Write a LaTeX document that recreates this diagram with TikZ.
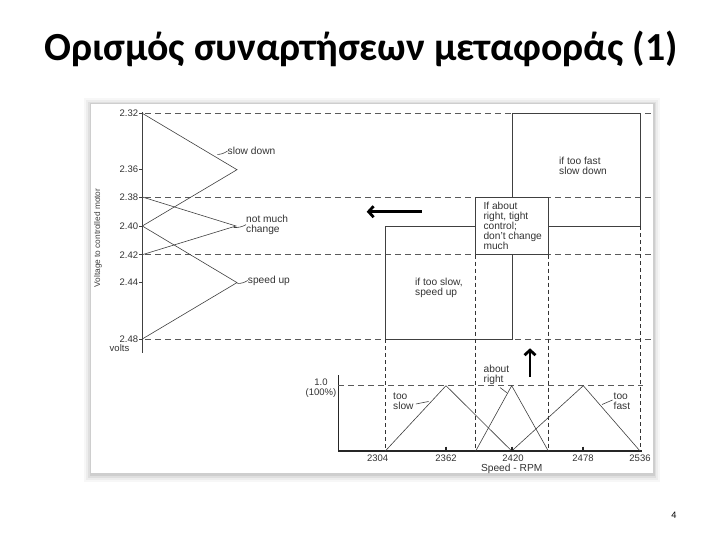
\documentclass[tikz,border=0pt]{standalone}
\usepackage{fontspec}
\setmainfont{Liberation Sans}
\newfontfamily\titlefont{Carlito}
\usetikzlibrary{arrows.meta, positioning}

\begin{document}
\begin{tikzpicture}[x=1pt, y=-1pt,
	curve/.style={line width=0.6pt, black!75},
	boxline/.style={line width=0.8pt, black!75},
	hguide/.style={line width=0.6pt, black!65, dash pattern=on 6pt off 4pt},
	vguide/.style={line width=0.6pt, black!80, dash pattern=on 4pt off 3pt},
	lbl/.style={font=\fontsize{9.5}{10}\selectfont, text=black!80, inner sep=0pt, align=left},
	word/.style={lbl, font=\fontsize{10.2}{10}\selectfont},
	fatarrow/.style={line width=2.8pt, black, -{Straight Barb[length=5pt, width=11pt]}},
	]
	\useasboundingbox (0,0) rectangle (720,540);
	
	% -------------------------------------------------------------------------
	% 1. Parameters (pixel positions)
	% -------------------------------------------------------------------------
	\def\Ax{142.3}   % voltage axis
	\def\Apex{237}   % apex of the voltage triangles
	\def\Bx{338.3}   % speed axis (vertical)
	\def\By{451}     % speed axis (horizontal)
	\def\Top{385.7}  % level 1.0
	
	% -------------------------------------------------------------------------
	% 2. Title, page number and the picture frame
	% -------------------------------------------------------------------------
	\node[font=\titlefont\bfseries\fontsize{39.8}{44}\selectfont, anchor=base] (title) at (361,61) {Ορισμός συναρτήσεων μεταφοράς (1)};
	\node[font=\titlefont\fontsize{10}{12}\selectfont] (pagenum) at (674,515) {4};
	
	\foreach \s/\op in {7/0.03, 5/0.04, 3/0.06, 1.5/0.08}
	\fill[black, opacity=\op] ({91-\s},{104-\s+1}) rectangle ({653+\s},{473+\s+1.5});
	\fill[white] (91,104) rectangle (653,473);
	
	% -------------------------------------------------------------------------
	% 3. Voltage axis with ticks
	% -------------------------------------------------------------------------
	\draw[curve] (\Ax,112) -- (\Ax,353);
	\foreach \v/\y [count=\i] in {2.32/113.3, 2.36/169.7, 2.38/197.0, 2.40/226.0, 2.42/254.7, 2.44/282.6, 2.48/339.0} {
		\draw[curve] (139.3,\y) -- (\Ax,\y);
		\node[lbl, anchor=east] (tick\i) at (138.3,\y) {\v};
	}
	\node[lbl] (volts) at (119.5,348.5) {volts};
	\node[rotate=90, font=\fontsize{8.3}{10}\selectfont, text=black!75, inner sep=0pt] (ylabel) at (98,238) {Voltage to controlled motor};
	
	% dashed levels 2.32, 2.38, 2.42, 2.48
	\foreach \y in {113.3, 197.0, 254.7, 339.0}
	\draw[hguide] (145,\y) -- (652,\y);
	
	% -------------------------------------------------------------------------
	% 4. Output triangles
	% -------------------------------------------------------------------------
	\draw[curve] (\Ax,113.3) -- (\Apex,169.7) -- (\Ax,226.0);
	\draw[curve] (\Ax,197.0) -- (236,226.0) -- (\Ax,254.7);
	\draw[curve] (\Ax,226.0) -- (\Apex,282.6) -- (\Ax,339.0);
	
	\node[word, anchor=west] (slowdown) at (227.5,151) {slow down};
	\node[word, anchor=west] (nochange) at (246,224.7) {not much\\change};
	\node[word, anchor=west] (speedup) at (247.7,280.5) {speed up};
	\draw[curve] (slowdown.west) to[bend left=15] (217.5,154.5);
	\draw[curve] (nochange.west) to[bend left=15] (233.5,227.5);
	\draw[curve] (speedup.west) to[bend left=15] (237.5,283.5);
	
	% -------------------------------------------------------------------------
	% 5. Rule boxes
	% -------------------------------------------------------------------------
	\draw[boxline] (512.3,197.0) -- (512.3,113.3) -- (640,113.3) -- (640,226.0) -- (548.3,226.0);
	\draw[boxline] (475.7,197.0) rectangle (548.3,254.7);
	\draw[boxline] (475.7,226.0) -- (385.3,226.0) -- (385.3,339.0) -- (512.3,339.0) -- (512.3,254.7);
	
	\node[word, anchor=west] (fasttxt) at (559,166) {if too fast\\slow down};
	\node[word, anchor=west] (righttxt) at (483.3,226) {If about\\right, tight\\control;\\don't change\\much};
	\node[word, anchor=west] (slowtxt) at (415,287.7) {if too slow,\\speed up};
	
	\coordinate (leftA) at (421.7,211.7);
	\coordinate (leftB) at (366.7,211.7);
	\draw[fatarrow] (leftA) -- (leftB);
	
	% vertical guides down to the speed axis
	\draw[vguide] (385.3,339.0) -- (385.3,\By);
	\draw[vguide] (475.7,254.7) -- (475.7,\By);
	\draw[vguide] (548.3,254.7) -- (548.3,\By);
	\draw[vguide] (640,226.0) -- (640,\By);
	
	% -------------------------------------------------------------------------
	% 6. Speed membership functions
	% -------------------------------------------------------------------------
	\draw[line width=1.2pt, black!85] (\Bx,375) -- (\Bx,\By) -- (641.7,\By);
	\draw[hguide] (\Bx,\Top) -- (643,\Top);
	\node[lbl, align=center] (fullval) at (321,388.3) {1.0\\(100\%)};
	
	\draw[curve] (385.3,\By) -- (446,\Top) -- (511.7,\By);
	\draw[curve] (475.7,\By) -- (511.7,\Top) -- (548.3,\By);
	\draw[curve] (511.7,\By) -- (583.3,\Top) -- (640,\By);
	
	\foreach \x in {446, 511.7, 583.3}
	\draw[line width=2pt, black!85] (\x,446.5) -- (\x,\By);
	\foreach \x/\r in {377.7/2304, 446/2362, 513/2420, 583/2478, 640/2536}
	\node[lbl] (rpm\r) at (\x,458.5) {\r};
	\node[word] (xlabel) at (511.7,468.7) {Speed - RPM};
	
	\node[word, anchor=west] (tooslow) at (393,401) {too\\slow};
	\node[word, anchor=west] (aboutright) at (483.5,374.5) {about\\right};
	\node[word, anchor=west] (toofast) at (613.5,401) {too\\fast};
	\draw[curve] (tooslow.east) ++(2,3) coordinate (tsA) -- (428.5,401.5);
	\draw[curve] (500,387.5) -- (506.8,392.7);
	\draw[curve] (toofast.west) ++(-1,-1) coordinate (tfA) -- (602,404.5);
	
	\coordinate (upA) at (530,377);
	\coordinate (upB) at (530,348.3);
	\draw[fatarrow] (upA) -- (upB);
	
\end{tikzpicture}
\end{document}
